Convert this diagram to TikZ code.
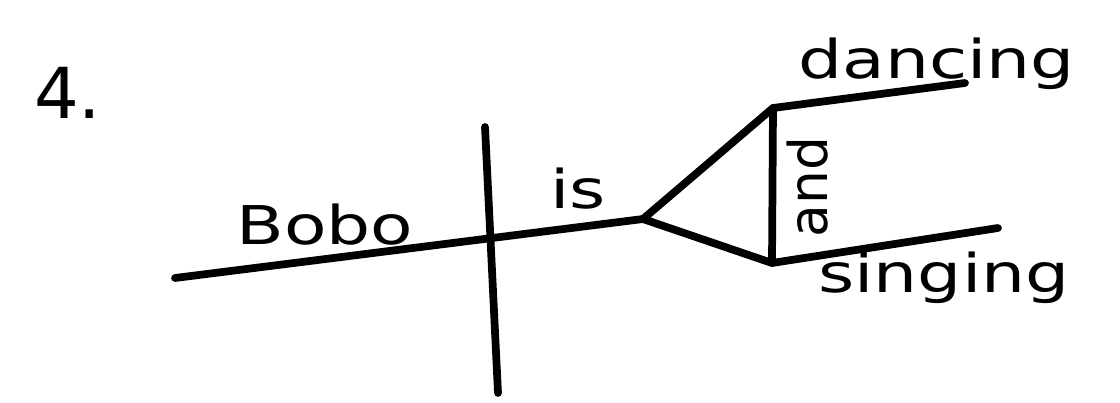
\documentclass[tikz,border=0pt]{standalone}
\usepackage{fontspec}
\setmainfont{DejaVu Sans}

\begin{document}
\begin{tikzpicture}[x=0.025cm, y=-0.025cm,
    diagline/.style={line width=5.5pt, black, line cap=round, line join=round},
    word/.style={anchor=base west, inner sep=0pt, xscale=1.3, font=\fontsize{38}{46}\selectfont},
    smallword/.style={anchor=base, inner sep=0pt, font=\fontsize{38}{46}\selectfont}]
    \useasboundingbox (0,0) rectangle (1120,402);

    % Points of the diagram
    \coordinate (subjStart) at (175,278);
    \coordinate (fork) at (643,219);
    \coordinate (divTop) at (485,127);
    \coordinate (divBot) at (498,393);
    \coordinate (upperJoin) at (773,108);
    \coordinate (lowerJoin) at (772,263);
    \coordinate (upperEnd) at (965,83);
    \coordinate (lowerEnd) at (998,228);

    % Number
    \node[anchor=base west, inner sep=0pt, font=\fontsize{50}{60}\selectfont] (num) at (34,118) {4.};

    % Base line and subject/predicate divider
    \draw[diagline] (subjStart) -- (fork);
    \draw[diagline] (divTop) -- (divBot);
    \node[word] (subj) at (236,244) {Bobo};
    \node[word] (verb) at (550,208) {is};

    % Compound fork
    \draw[diagline] (fork) -- (upperJoin) -- (lowerJoin) -- cycle;
    \draw[diagline] (upperJoin) -- (upperEnd);
    \draw[diagline] (lowerJoin) -- (lowerEnd);
    \node[smallword, rotate=90] (conj) at (827,187) {and};

    % Compound complements
    \node[word] (compA) at (798,78) {dancing};
    \node[word] (compB) at (818,292) {singing};

\end{tikzpicture}
\end{document}
